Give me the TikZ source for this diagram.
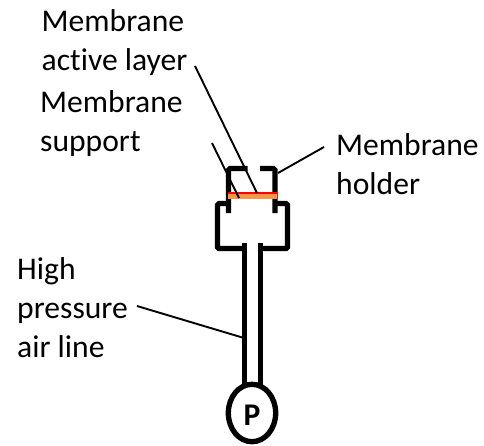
\documentclass[tikz,border=0pt]{standalone}
\usepackage{fontspec}
\setmainfont[Ligatures=NoCommon]{Carlito}
\definecolor{membraneorange}{HTML}{F79646}
\begin{document}
\begin{tikzpicture}[
		x=1pt,y=-1pt,
		wall/.style={draw=black, line width=5.3pt},
		leader/.style={draw=black, line width=1.9pt},
		caption/.style={font=\fontsize{31.6}{39}\selectfont, align=left, inner sep=0pt}
	]
	\useasboundingbox (0,0) rectangle (484,445);

	% Captions
	\node[caption, anchor=north west] (active) at (41.5,9.5) {Membrane\\active layer};
	\node[caption, anchor=north west] (support) at (40,90) {Membrane\\support};
	\node[caption, anchor=north west] (holder) at (336,133.5) {Membrane\\holder};
	\node[caption, anchor=north west] (air) at (17,257) {High\\pressure\\air line};

	% Holder
	\draw[wall, rounded corners=1.5pt] (247.7,168.5) -- (228.5,168.5) -- (228.5,213);
	\draw[wall, rounded corners=1.5pt] (260,168.5) -- (275,168.5) -- (275,213);
	\draw[wall, rounded corners=1.5pt] (228.5,203.5) -- (217.5,203.5) -- (217.5,248.5) -- (244.5,248.5);
	\draw[wall, rounded corners=1.5pt] (275,203.5) -- (287.5,203.5) -- (287.5,248.5) -- (260.5,248.5);

	% Membrane
	\fill[membraneorange] (228,194) rectangle (277,199);
	\fill[red] (228,192) rectangle (277,194);

	% Air line and pump
	\draw[wall] (244.5,243) -- (244.5,385);
	\draw[wall] (260.5,243) -- (260.5,385);
	\draw[wall, fill=white] (252,413) ellipse (23.7 and 28.7);
	\node[font=\fontsize{31.6}{39}\selectfont\bfseries, inner sep=0pt] (pump) at (252,415) {P};

	% Leaders
	\coordinate (activeStart) at (195,66);
	\coordinate (activeEnd) at (257,193);
	\coordinate (supportStart) at (212,143);
	\coordinate (supportEnd) at (239,198);
	\coordinate (holderStart) at (324,147);
	\coordinate (holderEnd) at (278,173);
	\coordinate (airStart) at (137,306);
	\coordinate (airEnd) at (244,338);
	\draw[leader] (activeStart) -- (activeEnd);
	\draw[leader] (supportStart) -- (supportEnd);
	\draw[leader] (holderStart) -- (holderEnd);
	\draw[leader] (airStart) -- (airEnd);

\end{tikzpicture}
\end{document}
